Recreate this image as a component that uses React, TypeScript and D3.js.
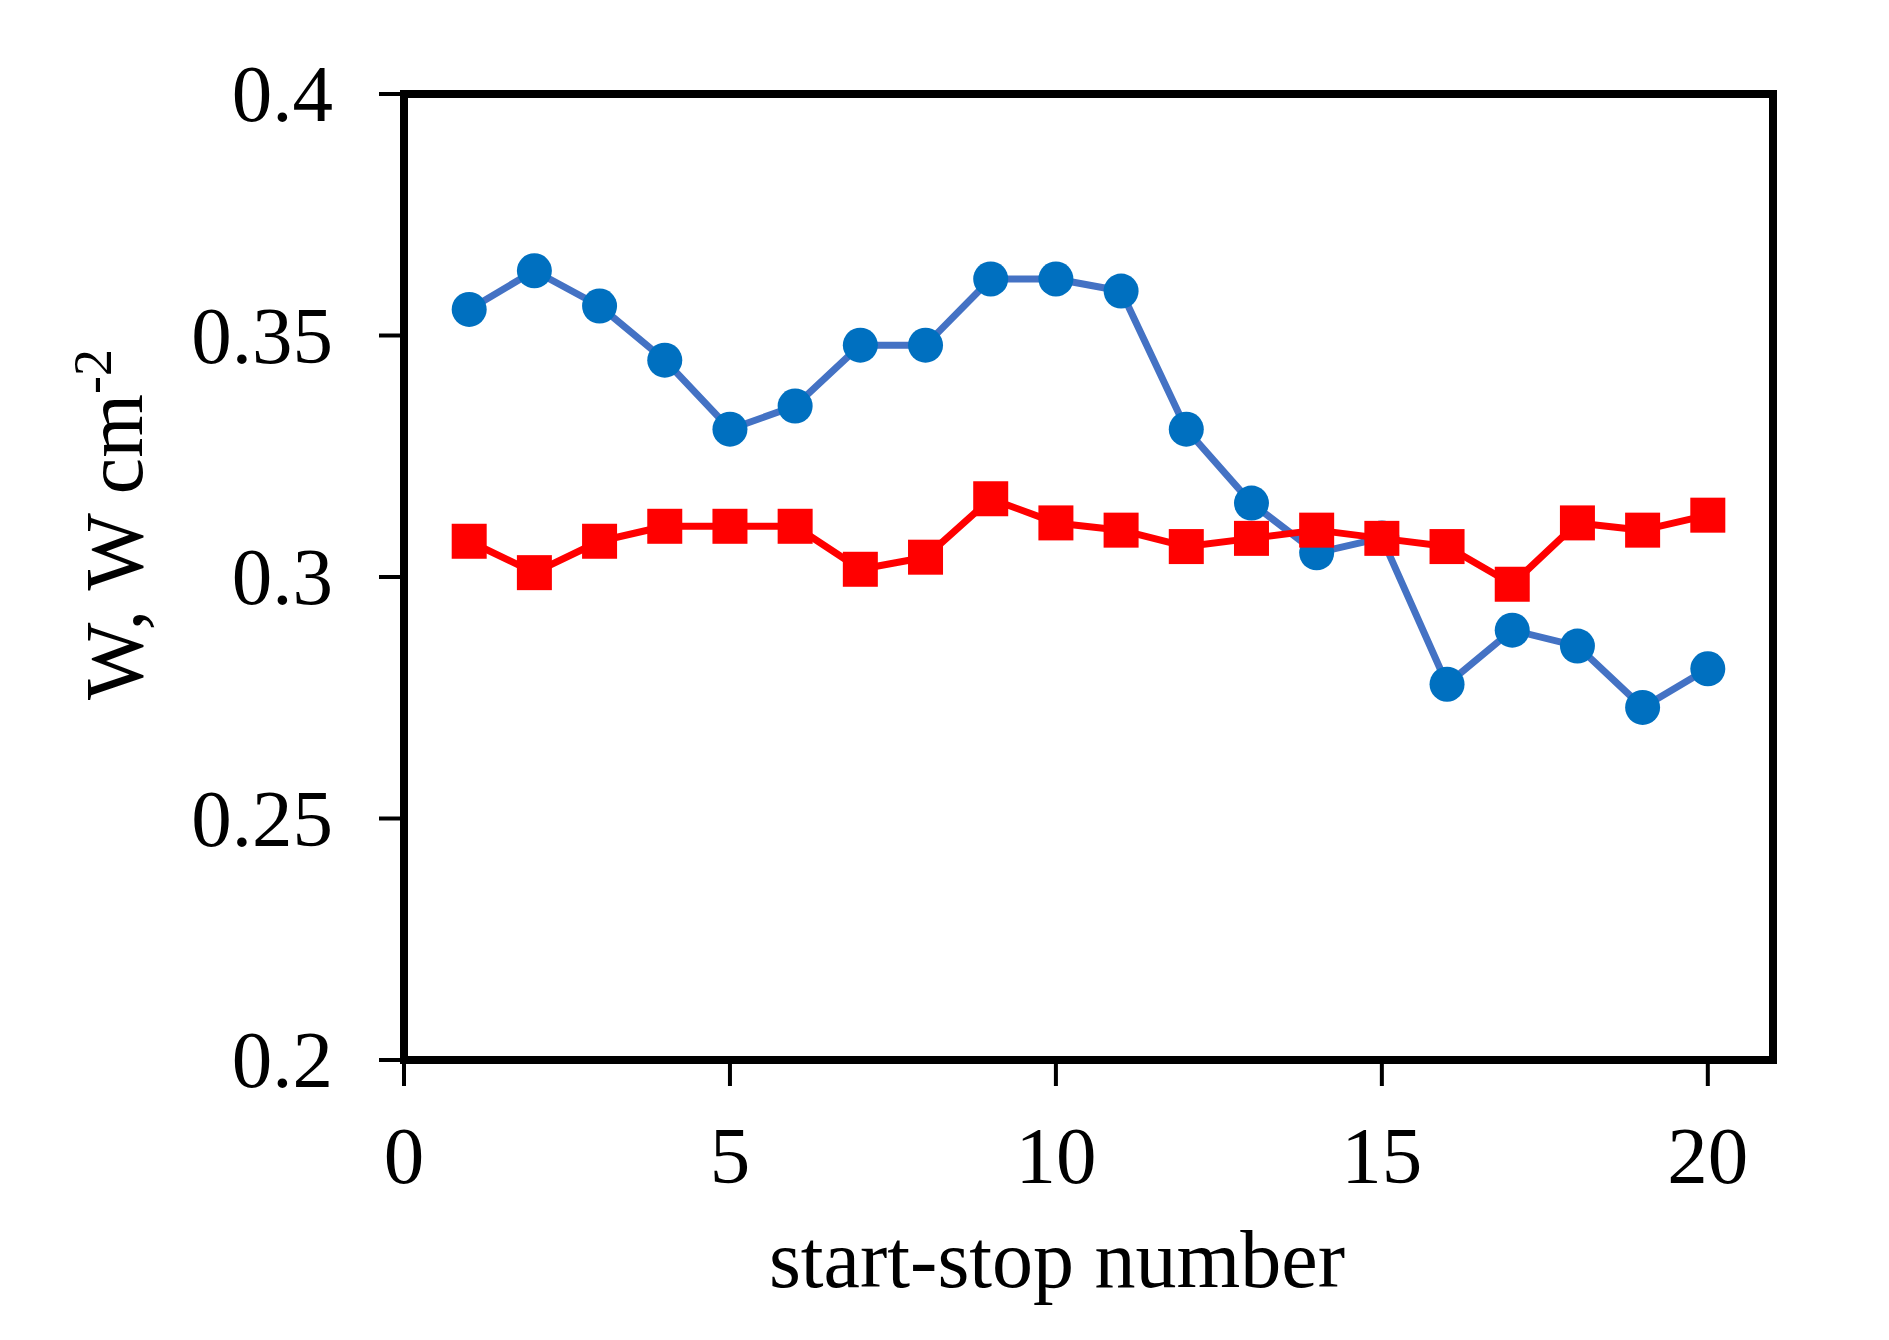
import React from "react";
import * as d3 from "d3";

const startStop: number[] = [1, 2, 3, 4, 5, 6, 7, 8, 9, 10, 11, 12, 13, 14, 15, 16, 17, 18, 19, 20];
const blueSeries: number[] = [0.3554, 0.3634, 0.3561, 0.3449, 0.3306, 0.3354, 0.348, 0.348, 0.3617, 0.3617, 0.3592, 0.3306, 0.3153, 0.305, 0.3081, 0.2778, 0.289, 0.2857, 0.273, 0.281];
const redSeries: number[] = [0.3074, 0.3009, 0.3074, 0.3105, 0.3105, 0.3105, 0.3016, 0.3041, 0.3162, 0.3112, 0.3097, 0.3063, 0.308, 0.3097, 0.308, 0.3063, 0.2985, 0.3112, 0.3097, 0.3128];
const xTicks: number[] = [0, 5, 10, 15, 20];
const yTicks: number[] = [0.2, 0.25, 0.3, 0.35, 0.4];
const yTickLabels: string[] = ["0.2", "0.25", "0.3", "0.35", "0.4"];
const xTitle = "start-stop number";

const W = 1889;
const H = 1340;
const left = 404;
const right = 1773;
const top = 94;
const bottom = 1060;
const FONT = "'Liberation Serif', 'Times New Roman', serif";

export default function App() {
  const x = d3.scaleLinear().domain([0, 21]).range([left, right]);
  const y = d3.scaleLinear().domain([0.2, 0.4]).range([bottom, top]);
  const line = d3
    .line<number>()
    .x((_, i) => x(startStop[i]))
    .y((d) => y(d));
  const sq = 35;
  return (
    <svg
      width={W}
      height={H}
      style={{ position: "absolute", left: 0, top: 0, background: "#fff" }}
    >
      <rect x={0} y={0} width={W} height={H} fill="#fff" />
      {yTicks.map((t, i) => (
        <g key={"yt" + i}>
          <line x1={379} x2={left} y1={y(t)} y2={y(t)} stroke="#000" strokeWidth={4} />
          <text
            x={333}
            y={y(t) + 27}
            textAnchor="end"
            fontFamily={FONT}
            fontSize={81}
            fill="#000"
          >
            {yTickLabels[i]}
          </text>
        </g>
      ))}
      {xTicks.map((t, i) => (
        <g key={"xt" + i}>
          <line x1={x(t)} x2={x(t)} y1={bottom} y2={1086} stroke="#000" strokeWidth={4} />
          <text
            x={x(t)}
            y={1183}
            textAnchor="middle"
            fontFamily={FONT}
            fontSize={81}
            fill="#000"
          >
            {String(t)}
          </text>
        </g>
      ))}
      <rect
        x={left}
        y={top}
        width={right - left}
        height={bottom - top}
        fill="none"
        stroke="#000"
        strokeWidth={8}
      />
      <path d={line(blueSeries) || ""} fill="none" stroke="#4472C4" strokeWidth={7} strokeLinejoin="round" />
      {blueSeries.map((v, i) => (
        <circle key={"b" + i} cx={x(startStop[i])} cy={y(v)} r={17.5} fill="#0070C0" />
      ))}
      <path d={line(redSeries) || ""} fill="none" stroke="#FF0000" strokeWidth={7} strokeLinejoin="round" />
      {redSeries.map((v, i) => (
        <rect
          key={"r" + i}
          x={x(startStop[i]) - sq / 2}
          y={y(v) - sq / 2}
          width={sq}
          height={sq}
          fill="#FF0000"
        />
      ))}
      <text x={1057} y={1287} textAnchor="middle" fontFamily={FONT} fontSize={82} fill="#000">
        {xTitle}
      </text>
      <text
        transform={`translate(142, 700) rotate(-90)`}
        textAnchor="start"
        fontFamily={FONT}
        fontSize={82}
        fill="#000"
      >
        W, W cm
        <tspan fontSize={54} dy={-31}>-2</tspan>
      </text>
    </svg>
  );
}
